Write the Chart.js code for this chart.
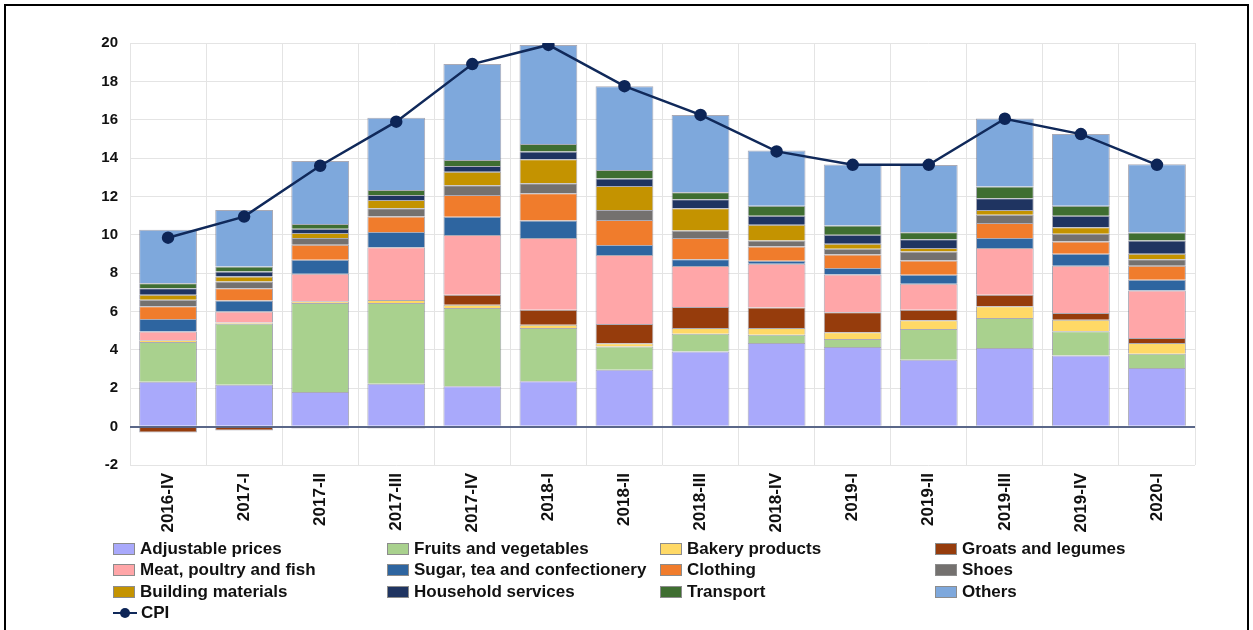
<!DOCTYPE html>
<html>
<head>
<meta charset="utf-8">
<script src="https://cdn.jsdelivr.net/npm/chart.js@4.4.0/dist/chart.umd.min.js"></script>
<style>
    body { margin: 0; background: #fff; width: 1253px; height: 630px; overflow: hidden; position: relative; font-family: 'Liberation Sans', Arial, sans-serif; }
    #frame { position: absolute; left: 4px; top: 4px; width: 1241px; height: 700px; border: 2px solid #000; }
    #wrap { position: absolute; left: 0; top: 0; width: 1253px; height: 545px; }
    #legend { position: absolute; left: 113px; top: 538px; display: grid; grid-template-columns: 274px 273px 275px 240px; grid-auto-rows: 21.5px; font-weight: bold; font-size: 17px; color: #111; }
    .item { display: flex; align-items: center; white-space: nowrap; }
    .box { width: 22px; height: 12px; margin-right: 5px; border: 1px solid #8c8c8c; box-sizing: border-box; }
    .cpi { position: relative; width: 24px; height: 12px; margin-right: 4px; }
    .cpi::before { content: ''; position: absolute; left: 0; right: 0; top: 5px; height: 2px; background: #10295a; }
    .cpi::after { content: ''; position: absolute; left: 7px; top: 1px; width: 10px; height: 10px; border-radius: 50%; background: #0d2557; }
</style>
</head>
<body>
<div id="frame"></div>
<div id="wrap"><canvas id="cpiChart"></canvas></div>
<div id="legend"></div>
<script>
// Quarters
const categories = ['2016-IV', '2017-I', '2017-II', '2017-III', '2017-IV', '2018-I', '2018-II',
    '2018-III', '2018-IV', '2019-I', '2019-II', '2019-III', '2019-IV', '2020-I'];

// Contributions, percentage points
const adjustable = [2.34, 2.19, 1.81, 2.24, 2.10, 2.36, 2.97, 3.92, 4.36, 4.15, 3.49, 4.10, 3.71, 3.06];
const fruits = [2.07, 3.17, 4.63, 4.20, 4.08, 2.78, 1.21, 0.92, 0.43, 0.42, 1.60, 1.56, 1.26, 0.74];
const bakery = [0.10, 0.07, 0.10, 0.16, 0.17, 0.17, 0.17, 0.30, 0.35, 0.35, 0.45, 0.61, 0.60, 0.56];
const groats = [-0.30, -0.20, -0.10, -0.10, 0.52, 0.78, 1.00, 1.10, 1.07, 1.04, 0.55, 0.61, 0.35, 0.26];
const meat = [0.45, 0.57, 1.43, 2.75, 3.12, 3.74, 3.60, 2.14, 2.28, 1.97, 1.36, 2.43, 2.47, 2.48];
const sugar = [0.65, 0.58, 0.73, 0.80, 0.95, 0.92, 0.52, 0.35, 0.16, 0.34, 0.47, 0.52, 0.62, 0.56];
const clothing = [0.66, 0.64, 0.78, 0.80, 1.13, 1.42, 1.30, 1.10, 0.74, 0.70, 0.74, 0.78, 0.64, 0.73];
const shoes = [0.34, 0.35, 0.35, 0.44, 0.52, 0.52, 0.52, 0.40, 0.31, 0.31, 0.47, 0.43, 0.40, 0.34];
const building = [0.26, 0.26, 0.26, 0.43, 0.70, 1.25, 1.25, 1.16, 0.82, 0.26, 0.18, 0.26, 0.35, 0.28];
const household = [0.35, 0.26, 0.22, 0.26, 0.30, 0.40, 0.40, 0.47, 0.47, 0.47, 0.46, 0.61, 0.59, 0.69];
const transport = [0.26, 0.26, 0.26, 0.26, 0.31, 0.40, 0.44, 0.36, 0.52, 0.47, 0.37, 0.61, 0.52, 0.42];
const others = [2.78, 2.95, 3.28, 3.76, 5.00, 5.16, 4.37, 4.03, 2.88, 3.18, 3.50, 3.55, 3.75, 3.56];

// CPI, % y/y
const cpi = [9.85, 10.95, 13.6, 15.9, 18.9, 19.9, 17.75, 16.25, 14.35, 13.65, 13.65, 16.05, 15.25, 13.65];

// Y axis range
const yMin = -2;
const yMax = 20;
const yStep = 2;

const barSeries = [
    { label: 'Adjustable prices', data: adjustable, color: '#a9a9fb' },
    { label: 'Fruits and vegetables', data: fruits, color: '#a9d18e' },
    { label: 'Bakery products', data: bakery, color: '#ffd966' },
    { label: 'Groats and legumes', data: groats, color: '#963c0c' },
    { label: 'Meat, poultry and fish', data: meat, color: '#ffa6a8' },
    { label: 'Sugar, tea and confectionery', data: sugar, color: '#2e65a0' },
    { label: 'Clothing', data: clothing, color: '#f07c2c' },
    { label: 'Shoes', data: shoes, color: '#74716f' },
    { label: 'Building materials', data: building, color: '#c49300' },
    { label: 'Household services', data: household, color: '#1f3461' },
    { label: 'Transport', data: transport, color: '#3f6e31' },
    { label: 'Others', data: others, color: '#7ea8dc' }
];

const datasets = barSeries.map(s => ({
    label: s.label,
    data: s.data,
    backgroundColor: s.color,
    borderColor: 'rgba(100, 100, 120, 0.55)',
    borderWidth: 1,
    barPercentage: 0.76,
    categoryPercentage: 1,
    stack: 'parts',
    order: 1
}));

datasets.push({
    type: 'line',
    label: 'CPI',
    data: cpi,
    stack: 'cpi',
    order: 0,
    borderColor: '#10295a',
    borderWidth: 2.5,
    pointRadius: 5,
    pointBackgroundColor: '#0d2557',
    pointBorderColor: '#0d2557',
    tension: 0
});

const gridColor = '#e4e4e4';
const tickFont = { family: "'Liberation Sans', Arial, sans-serif", weight: 'bold' };

const chart = new Chart(document.getElementById('cpiChart'), {
    type: 'bar',
    data: { labels: categories, datasets: datasets },
    options: {
        responsive: true,
        maintainAspectRatio: false,
        animation: false,
        layout: { padding: { top: 43, right: 58, left: 0, bottom: 0 } },
        plugins: {
            legend: { display: false },
            tooltip: { enabled: false }
        },
        scales: {
            x: {
                stacked: true,
                grid: { offset: true, color: gridColor, drawTicks: false },
                border: { display: false },
                ticks: {
                    maxRotation: 90,
                    minRotation: 90,
                    padding: 8,
                    color: '#111',
                    font: { ...tickFont, size: 17 }
                },
                afterFit: scale => { scale.height = 80; }
            },
            y: {
                stacked: true,
                min: yMin,
                max: yMax,
                ticks: {
                    stepSize: yStep,
                    padding: 12,
                    color: '#111',
                    font: { ...tickFont, size: 15 }
                },
                grid: {
                    drawTicks: false,
                    color: ctx => ctx.tick && ctx.tick.value === 0 ? '#5a6788' : gridColor,
                    lineWidth: ctx => ctx.tick && ctx.tick.value === 0 ? 2 : 1
                },
                border: { display: false },
                afterFit: scale => { scale.width = 130; }
            }
        }
    }
});

// Legend in four columns
const legend = document.getElementById('legend');
chart.data.datasets.forEach(ds => {
    const item = document.createElement('div');
    item.className = 'item';
    const mark = document.createElement('span');
    if (ds.type === 'line') {
        mark.className = 'cpi';
    } else {
        mark.className = 'box';
        mark.style.background = ds.backgroundColor;
    }
    item.appendChild(mark);
    item.appendChild(document.createTextNode(ds.label));
    legend.appendChild(item);
});
</script>
</body>
</html>
